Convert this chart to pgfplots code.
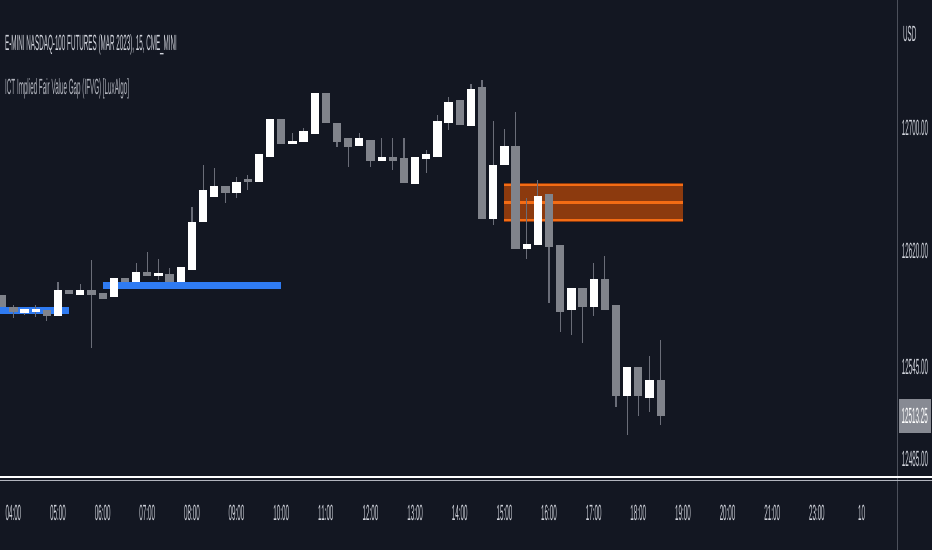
\documentclass[border=0pt]{standalone}
\usepackage{pgfplots}
\pgfplotsset{compat=1.18}
\usepackage{pgfplotstable}
\usepackage{fontspec}
\setmainfont{Liberation Sans}[FakeStretch=0.285]

\definecolor{bg}{HTML}{131722}
\definecolor{upc}{HTML}{FFFFFF}
\definecolor{dnc}{HTML}{80838B}
\definecolor{wick}{HTML}{6A6D78}
\definecolor{ifvgblue}{HTML}{2F7BF2}
\definecolor{ofill}{HTML}{8C3A0E}
\definecolor{oline}{HTML}{F46C14}
\definecolor{sep}{HTML}{4C505B}
\definecolor{txt}{HTML}{D1D4DC}
\definecolor{subtxt}{HTML}{B2B5BE}
\definecolor{pbox}{HTML}{878A93}

% 15 min bars, x = bar index (0 = 04:00)
\pgfplotstableread{
x  o        h        l        c
1  12580.0  12582.5  12578.5  12582.5
2  12580.5  12585.0  12577.25 12582.5
4  12578.0  12600.0  12578.0  12594.75
6  12591.5  12598.75 12591.5  12594.75
9  12590.25 12602.5  12590.25 12602.5
11 12600.0  12612.25 12600.0  12606.5
13 12604.0  12615.0  12601.25 12605.75
15 12600.0  12609.75 12600.0  12609.75
16 12607.75 12648.75 12607.75 12639.0
17 12639.0  12676.0  12639.0  12659.75
18 12655.25 12674.0  12655.25 12662.25
20 12657.75 12668.25 12654.5  12665.0
22 12665.0  12683.0  12665.0  12683.0
23 12681.25 12705.75 12681.25 12705.75
25 12689.5  12696.75 12689.5  12691.5
26 12691.0  12700.0  12691.0  12698.0
27 12696.0  12722.75 12696.0  12722.75
31 12688.25 12696.75 12688.25 12693.5
33 12678.5  12693.5  12678.5  12681.25
36 12663.75 12681.25 12663.75 12681.25
37 12680.0  12685.75 12670.75 12683.0
38 12681.25 12708.5  12681.25 12704.5
39 12703.25 12720.0  12698.75 12717.0
41 12701.25 12728.5  12701.25 12725.25
43 12641.0  12704.5  12637.0  12676.0
44 12676.0  12699.25 12676.0  12688.25
46 12621.5  12654.5  12615.0  12624.75
47 12624.0  12666.25 12624.0  12655.75
50 12581.75 12596.0  12565.5  12596.0
52 12583.75 12612.25 12578.0  12602.0
55 12526.0  12544.75 12500.5  12544.75
57 12524.75 12552.0  12515.5  12536.5
}\upbars

\pgfplotstableread{
x  o        h        l        c
-1 12591.5  12591.5  12583.75 12583.75
0  12583.75 12585.0  12576.5  12580.5
3  12581.75 12581.75 12574.75 12578.0
5  12594.75 12594.75 12592.25 12592.25
7  12594.75 12614.25 12557.0  12591.5
8  12593.0  12593.0  12589.0  12589.0
10 12602.5  12602.5  12600.0  12600.0
12 12606.5  12619.5  12604.0  12604.0
14 12605.25 12609.0  12600.0  12600.0
19 12662.25 12662.25 12651.25 12657.75
21 12667.0  12669.5  12659.75 12665.0
24 12705.75 12705.75 12689.5  12689.5
28 12722.75 12722.75 12703.25 12703.25
29 12703.25 12703.25 12687.75 12691.0
30 12693.5  12693.5  12674.75 12687.75
32 12692.25 12692.25 12674.75 12678.5
34 12681.25 12693.5  12672.75 12678.5
35 12680.5  12693.5  12664.25 12664.25
40 12718.25 12718.25 12702.0  12702.0
42 12726.5  12731.25 12641.0  12641.0
45 12688.25 12710.5  12621.5  12621.5
48 12657.0  12657.0  12586.5  12622.75
49 12624.0  12624.0  12567.5  12580.5
51 12596.0  12596.0  12560.5  12583.75
53 12602.0  12617.0  12581.75 12581.75
54 12585.0  12585.0  12518.75 12526.0
56 12544.75 12544.75 12513.0  12526.0
58 12536.5  12562.25 12507.0  12513.25
}\dnbars

\pgfplotsset{
  wicks/.style={draw=none, mark=none,
    error bars/.cd, y dir=both, y explicit, error mark=none,
    error bar style={draw=wick, line width=1.2pt}},
  bodies/.style={draw=none, mark=none,
    error bars/.cd, y dir=both, y explicit, error mark=none,
    error bar style={draw=#1, line width=8.3pt}},
}

\begin{document}
\begin{tikzpicture}
\fill[bg] (0pt,0pt) rectangle (932pt,550pt);
\useasboundingbox (0pt,0pt) rectangle (932pt,550pt);
\begin{axis}[
  at={(0pt,73pt)}, anchor=south west,
  width=897pt, height=477pt, scale only axis,
  xmin=-1.2, xmax=79.18, ymin=12473.4, ymax=12783.1,
  axis line style={draw=none},
  tick style={draw=none}, major tick length=0pt,
  xtick={0,4,8,12,16,20,24,28,32,36,40,44,48,52,56,60,64,68,72,76},
  xticklabels={04:00,05:00,06:00,07:00,08:00,09:00,10:00,11:00,12:00,13:00,14:00,15:00,16:00,17:00,18:00,19:00,20:00,21:00,23:00,10},
  ytick={12485,12545,12620,12700},
  yticklabels={12485.00,12545.00,12620.00,12700.00},
  yticklabel pos=right,
  /pgf/number format/assume math mode=true,
  ticklabel style={font=\fontsize{22}{24}\selectfont, text=txt},
  xticklabel style={anchor=center, yshift=-36pt},
  yticklabel style={anchor=center, xshift=18pt},
]
% implied FVG zone
\addplot[fill=ofill, draw=none] coordinates {(44,12639) (60,12639) (60,12664.25) (44,12664.25)};
\addplot[oline, line width=2.6pt] coordinates {(44,12663) (60,12663)};
\addplot[oline, line width=2.6pt] coordinates {(44,12651.5) (60,12651.5)};
\addplot[oline, line width=2.6pt] coordinates {(44,12640.25) (60,12640.25)};
% IFVG levels
\addplot[ifvgblue, line width=7pt] coordinates {(-2,12581.25) (5,12581.25)};
\addplot[ifvgblue, line width=7pt] coordinates {(8,12597.75) (24,12597.75)};
% candles
\addplot[wicks] table[x=x, y expr={(\thisrow{h}+\thisrow{l})/2}, y error expr={(\thisrow{h}-\thisrow{l})/2}] {\upbars};
\addplot[wicks] table[x=x, y expr={(\thisrow{h}+\thisrow{l})/2}, y error expr={(\thisrow{h}-\thisrow{l})/2}] {\dnbars};
\addplot[bodies=upc] table[x=x, y expr={(\thisrow{o}+\thisrow{c})/2}, y error expr={abs(\thisrow{c}-\thisrow{o})/2}] {\upbars};
\addplot[bodies=dnc] table[x=x, y expr={(\thisrow{o}+\thisrow{c})/2}, y error expr={abs(\thisrow{c}-\thisrow{o})/2}] {\dnbars};
\coordinate (lastp) at (axis cs:79.18,12513.25);
\end{axis}
\draw[sep, line width=1.2pt] (897.5pt,0pt) -- (897.5pt,550pt);
\draw[white, line width=1.8pt] (0pt,73pt) -- (932pt,73pt);
\draw[subtxt, line width=1.2pt] (0pt,69.5pt) -- (932pt,69.5pt);
\node[anchor=west, fill=pbox, text=white, inner sep=0pt, minimum width=32pt, minimum height=34pt,
  font=\fontsize{22}{24}\selectfont] at ([xshift=1.5pt]lastp) {12513.25};
\node[anchor=base west, inner sep=0pt, text=txt, font=\fontsize{22}{24}\selectfont]
  at (5pt,499pt) {E-MINI NASDAQ-100 FUTURES (MAR 2023), 15, CME\_MINI};
\node[anchor=base west, inner sep=0pt, text=subtxt, font=\fontsize{22}{24}\selectfont]
  at (5pt,455pt) {ICT Implied Fair Value Gap (IFVG) [LuxAlgo]};
\node[anchor=west, inner sep=0pt, text=txt, font=\fontsize{22}{24}\selectfont]
  at (903pt,516pt) {USD};
\end{tikzpicture}
\end{document}
